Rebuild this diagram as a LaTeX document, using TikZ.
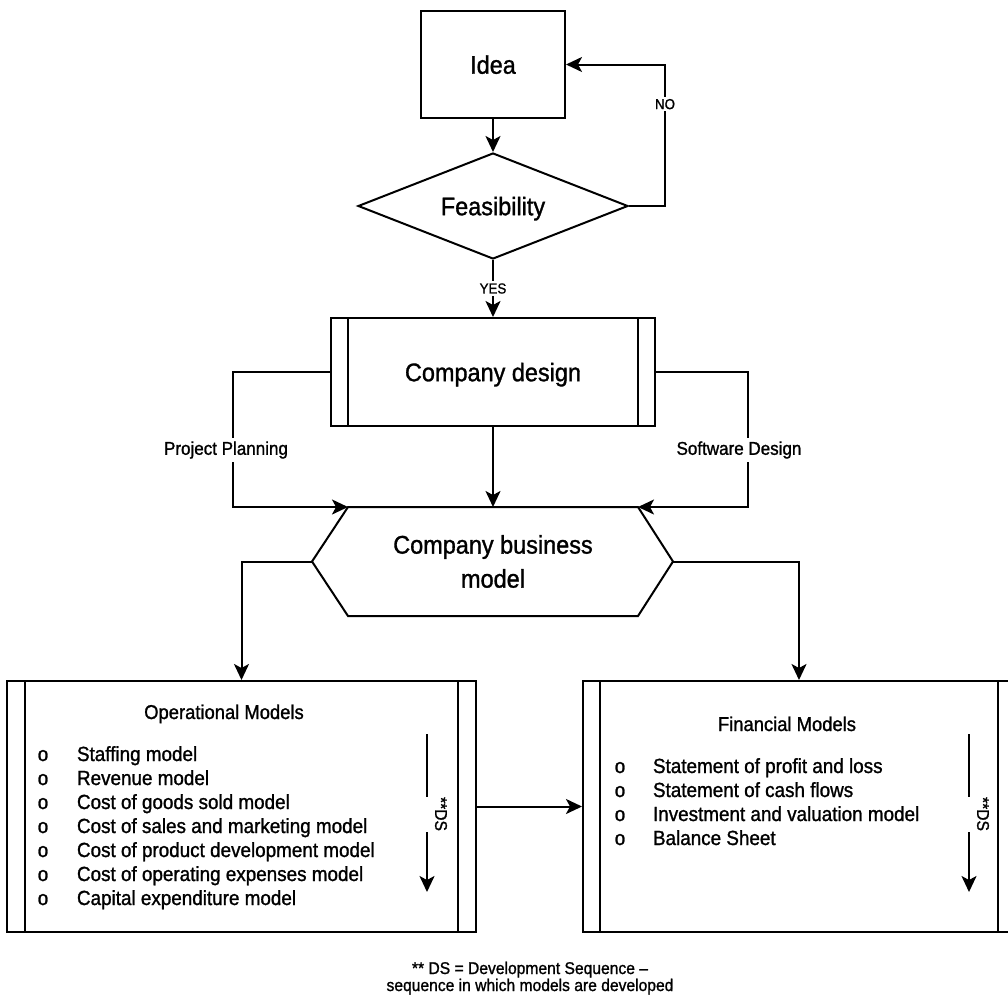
\documentclass[tikz,border=0pt]{standalone}
\usepackage{fontspec}
\setmainfont{Liberation Sans}[FakeStretch=0.92,FakeBold=1.2]
\usetikzlibrary{shapes.geometric,arrows.meta,calc}
\begin{document}
\begin{tikzpicture}[x=1pt,y=-1pt,
  line width=2pt,
  arr/.style={-{Stealth[length=16pt,width=15pt,inset=4pt]}},
  box/.style={draw,rectangle,inner sep=0pt},
  big/.style={font=\fontsize{25.5}{30}\selectfont, text depth=0pt},
  lbl/.style={fill=white,inner sep=2pt,font=\fontsize{14.5}{17}\selectfont},
  lbltwo/.style={fill=white,inner sep=3pt,font=\fontsize{18.5}{22}\selectfont},
  titlef/.style={inner sep=0pt,font=\fontsize{20}{24}\selectfont},
  itemf/.style={inner sep=0pt,font=\fontsize{20.5}{24}\selectfont},
  dsf/.style={inner sep=0pt,font=\fontsize{17}{20}\selectfont},
  fnf/.style={inner sep=0pt,font=\fontsize{17}{20}\selectfont}]
\useasboundingbox (0,0) rectangle (1008,998);

% main nodes
\node[box, minimum width=144pt, minimum height=107pt, big] (idea) at (493,64.5) {Idea};
\node[draw, diamond, aspect=2.5, inner sep=0pt, minimum width=270pt, minimum height=106pt, big] (feas) at (493,206) {Feasibility};
\node[box, minimum width=324pt, minimum height=108pt, big] (design) at (493,372) {Company design};
\node[inner sep=0pt, minimum width=288pt, minimum height=107pt, align=center, font=\fontsize{25.5}{34}\selectfont] (hex) at (493,561.5) {Company business\\model};
\coordinate (hexL) at ($(hex.west)+(-36,0)$);
\coordinate (hexR) at ($(hex.east)+(35,0)$);
\draw (hex.north west) -- (hex.north east) -- (hexR) -- (hex.south east) -- (hex.south west) -- (hexL) -- cycle;

\node[box, minimum width=469pt, minimum height=251pt] (op) at (241.5,806.5) {};
\node[box, minimum width=432pt, minimum height=251pt] (fin) at (799,806.5) {};

% inner bars of the process boxes
\foreach \n/\d in {design/18, op/19, fin/18}{
  \draw ([xshift=\d pt]\n.north west) -- ([xshift=\d pt]\n.south west);
  \draw ([xshift=-\d pt]\n.north east) -- ([xshift=-\d pt]\n.south east);
}

% box contents
\node[titlef, anchor=base] (opT) at (224,719) {Operational Models};
\foreach \t [count=\i] in {Staffing model, Revenue model, Cost of goods sold model, Cost of sales and marketing model, Cost of product development model, Cost of operating expenses model, Capital expenditure model}{
  \node[itemf, anchor=base] (opb\i) at (43,{761+24*(\i-1)}) {o};
  \node[itemf, anchor=base west] (opi\i) at (76,{761+24*(\i-1)}) {\t};
}
\node[titlef, anchor=base] (finT) at (787,731) {Financial Models};
\foreach \t [count=\i] in {Statement of profit and loss, Statement of cash flows, Investment and valuation model, Balance Sheet}{
  \node[itemf, anchor=base] (finb\i) at (620,{773+24*(\i-1)}) {o};
  \node[itemf, anchor=base west] (fini\i) at (652,{773+24*(\i-1)}) {\t};
}

% development sequence arrows
\coordinate (opDSa) at (427,734);
\coordinate (opDSb) at (427,797);
\coordinate (opDSc) at (427,832);
\coordinate (opDSd) at (427,892);
\draw (opDSa) -- (opDSb);
\draw[arr] (opDSc) -- (opDSd);
\node[dsf, rotate=-90] (opDS) at (441,814) {**DS};

\coordinate (finDSa) at (969,734);
\coordinate (finDSb) at (969,797);
\coordinate (finDSc) at (969,832);
\coordinate (finDSd) at (969,892);
\draw (finDSa) -- (finDSb);
\draw[arr] (finDSc) -- (finDSd);
\node[dsf, rotate=-90] (finDS) at (983,814) {**DS};

% connectors
\draw[arr] (idea.south) -- (feas.north);
\draw[arr] (feas.east) -- ++(36,0) |- (idea.east) node[lbl, pos=0.36] (no) {NO};
\draw[arr] (feas.south) -- node[lbl] (yes) {YES} (design.north);
\draw[arr] (design.west) -- ++(-97,0) |- (hex.north west);
\node[lbltwo] (pp) at (226,450) {Project Planning};
\draw[arr] (design.east) -- ++(92,0) |- (hex.north east);
\node[lbltwo] (sd) at (739,450) {Software Design};
\draw[arr] (design.south) -- (hex.north);
\draw[arr] (hexL) -| (op.north);
\draw[arr] (hexR) -| (fin.north);
\draw[arr] (op.east) -- (fin.west);

% footnote
\node[fnf, anchor=base] (fn1) at (530,974) {** DS = Development Sequence \textendash};
\node[fnf, anchor=base] (fn2) at (530,991) {sequence in which models are developed};
\end{tikzpicture}
\end{document}
